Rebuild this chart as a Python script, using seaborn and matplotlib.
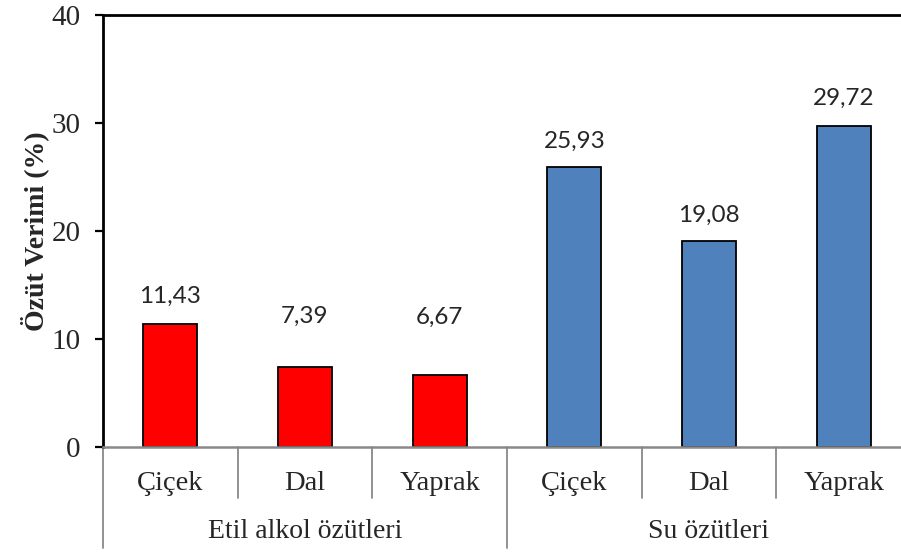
import pandas as pd
import matplotlib.pyplot as plt
import seaborn as sns
from matplotlib.transforms import blended_transform_factory

# Data
groups = ['Etil alkol özütleri', 'Etil alkol özütleri', 'Etil alkol özütleri',
          'Su özütleri', 'Su özütleri', 'Su özütleri']
parts = ['Çiçek', 'Dal', 'Yaprak', 'Çiçek', 'Dal', 'Yaprak']
values = [11.43, 7.39, 6.67, 25.93, 19.08, 29.72]
value_labels = ['11,43', '7,39', '6,67', '25,93', '19,08', '29,72']
group_names = ['Etil alkol özütleri', 'Su özütleri']

df = pd.DataFrame({'group': groups, 'part': parts, 'value': values})
df['key'] = [f'{g}|{p}' for g, p in zip(groups, parts)]

sns.set_style('white')
plt.rcParams['font.family'] = ['Liberation Serif', 'DejaVu Serif']

fig = plt.figure(figsize=(9.01, 5.54), dpi=100)
ax = fig.add_axes([103 / 901, 1 - 447 / 554, 808 / 901, 432 / 554])

custom_palette = {'Etil alkol özütleri': '#FF0000', 'Su özütleri': '#4F81BD'}
sns.barplot(data=df, x='key', y='value', hue='group', palette=custom_palette,
            dodge=False, width=0.4, edgecolor='black', linewidth=1.3,
            legend=False, ax=ax, saturation=1)

ax.set_xlim(-0.5, 5.5)
ax.set_ylim(0, 40)
ax.set_yticks([0, 10, 20, 30, 40])
ax.set_xticks(range(len(parts)))
ax.set_xticklabels(parts, fontsize=20.5)
ax.tick_params(axis='x', length=0, pad=17)
ax.tick_params(axis='y', length=6, width=1.6, direction='out', labelsize=21,
               color='black', left=True, pad=10)
ax.set_xlabel('')
ax.set_ylabel('Özüt Verimi (%)', fontsize=20, fontweight='bold', labelpad=2)

# spines
for side in ['left', 'top']:
    ax.spines[side].set_color('black')
    ax.spines[side].set_linewidth(2)
ax.spines['bottom'].set_color('#898989')
ax.spines['bottom'].set_linewidth(1.8)
ax.spines['right'].set_visible(False)

# value labels (offsets in pixels above the bar top)
offsets = [27, 51, 58, 26, 26, 28]
for i, (v, lab, off) in enumerate(zip(values, value_labels, offsets)):
    ax.annotate(lab, xy=(i, v), xytext=(0, off), textcoords='offset pixels',
                ha='center', va='center', fontsize=17.5, family=['Lato', 'DejaVu Sans'])

# multi-level category axis
trans = blended_transform_factory(ax.transData, ax.transAxes)
for x in [0.5, 1.5, 3.5, 4.5]:
    ax.plot([x, x], [0, -0.118], transform=trans, color='#898989', lw=1.3, clip_on=False)
for x in [-0.5, 2.5, 5.5]:
    ax.plot([x, x], [0, -0.234], transform=trans, color='#898989', lw=1.3, clip_on=False)
for j, name in enumerate(group_names):
    ax.text(1 + 3 * j, -0.196, name, transform=trans, ha='center', va='center', fontsize=20)

plt.savefig('out.png', dpi=100)
